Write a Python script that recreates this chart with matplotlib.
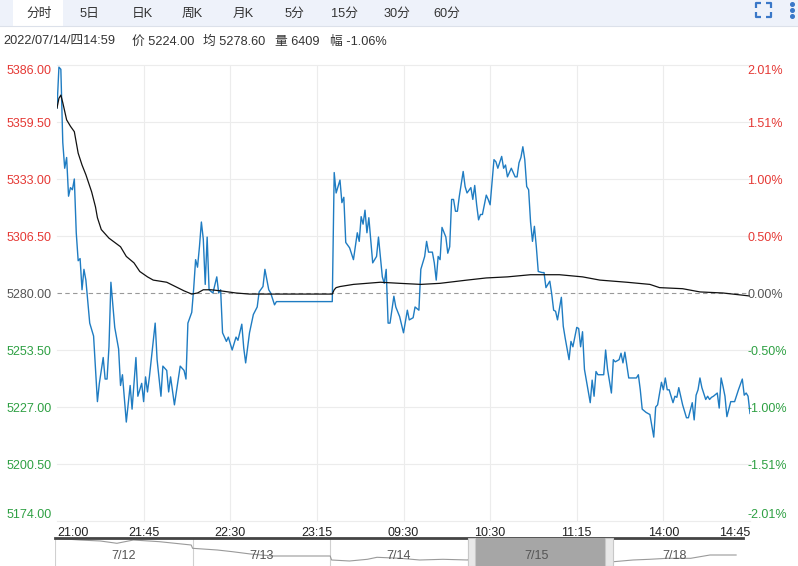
import matplotlib
matplotlib.use('Agg')
import matplotlib.pyplot as plt
from matplotlib.patches import Rectangle

plt.rcParams['font.family'] = ['Liberation Sans', 'Noto Sans CJK SC', 'DejaVu Sans']

W, H = 798, 566
pre_close = 5280.0

# minute index on the axis (0 = 21:00 ... 360 = 14:45) and price
price_t = [0, 1, 2, 3, 4, 5, 6, 7, 8, 9,
           10, 11, 12, 13, 14, 15, 17, 19, 21, 22,
           24, 25, 26, 27, 28, 30, 32, 33, 34, 36,
           38, 39, 41, 42, 44, 45, 46, 47, 48, 51,
           52, 54, 55, 57, 58, 59, 61, 64, 66, 67,
           68, 70, 71, 72, 73, 74, 75, 76, 77, 78,
           79, 81, 83, 84, 85, 86, 88, 89, 91, 93,
           94, 96, 97, 98, 100, 102, 104, 105, 107, 108,
           110, 111, 113, 114, 143, 144, 145, 147, 148, 149,
           150, 152, 154, 156, 157, 158, 159, 160, 161, 162,
           164, 166, 167, 169, 170, 171, 172, 173, 175, 176,
           178, 180, 182, 183, 185, 186, 188, 189, 191, 192,
           193, 195, 196, 197, 198, 199, 200, 202, 203, 204,
           205, 206, 207, 208, 209, 211, 212, 213, 215, 216,
           217, 218, 219, 220, 221, 223, 224, 225, 227, 228,
           229, 231, 232, 233, 234, 235, 236, 238, 239, 240,
           241, 242, 243, 244, 245, 246, 247, 248, 249, 250,
           252, 253, 254, 256, 257, 258, 259, 260, 262, 263,
           264, 266, 267, 268, 270, 271, 272, 273, 274, 276,
           277, 278, 279, 280, 281, 284, 285, 286, 288, 289,
           290, 292, 293, 294, 295, 297, 301, 302, 303, 304,
           306, 308, 310, 311, 312, 314, 315, 316, 317, 318,
           319, 320, 321, 322, 323, 324, 325, 327, 328, 330,
           331, 332, 333, 334, 335, 337, 338, 339, 340, 341,
           343, 344, 345, 346, 347, 348, 350, 352, 354, 356,
           357, 358, 359, 360]
price_v = [5366, 5385, 5384, 5350, 5338, 5343, 5325, 5329, 5328, 5333,
           5308, 5295, 5296, 5281.5, 5291, 5286, 5266, 5260, 5229.5, 5238,
           5250, 5240, 5240, 5255, 5285, 5264, 5254, 5237, 5242, 5220,
           5237, 5226, 5250, 5232, 5238, 5229.5, 5241, 5234, 5241, 5266,
           5249, 5232, 5246, 5244, 5234, 5241, 5228, 5246, 5244, 5240,
           5266, 5271, 5282, 5295.5, 5292, 5301.5, 5313, 5305, 5284, 5306,
           5281.5, 5280, 5287.5, 5280, 5281.5, 5261.5, 5257.5, 5259.5, 5253.5, 5259.5,
           5258, 5265.5, 5254.5, 5247.5, 5261.5, 5270, 5273.5, 5280.5, 5283, 5291,
           5281.5, 5280, 5274.5, 5276, 5276, 5336, 5326.5, 5332.5, 5322, 5324.5,
           5303.5, 5301, 5295.5, 5308, 5304, 5315.5, 5312, 5318.5, 5308, 5315,
           5294, 5297, 5306, 5287.5, 5284.5, 5291, 5266, 5266, 5278.5, 5273.5,
           5269, 5261.5, 5272, 5267.5, 5268.5, 5273.5, 5272, 5291, 5297, 5304,
           5299, 5299, 5294, 5286, 5297, 5295.5, 5310.5, 5306, 5298.5, 5301.5,
           5323.5, 5323.5, 5318, 5318, 5325, 5336.5, 5329.5, 5326.5, 5329, 5323.5,
           5330, 5321, 5314, 5316.5, 5316.5, 5325.5, 5323.5, 5321, 5342, 5341,
           5338, 5343.5, 5338, 5339.5, 5334, 5336, 5338, 5334, 5334, 5340.5,
           5343, 5348, 5342, 5329.5, 5328, 5313, 5304, 5311, 5301.5, 5290,
           5289.5, 5289.5, 5282.5, 5285.5, 5279.5, 5272, 5271.5, 5267.5, 5278, 5264.5,
           5259, 5249, 5257.5, 5255, 5264, 5263.5, 5255, 5262, 5244.5, 5234,
           5229, 5239.5, 5232, 5243.5, 5242, 5242, 5253.5, 5244.5, 5233.5, 5249,
           5248, 5249, 5252, 5247.5, 5252.5, 5240.5, 5240.5, 5242, 5235, 5226,
           5224.5, 5223.5, 5213, 5227, 5228, 5238.5, 5235, 5240.5, 5235, 5235,
           5232, 5229, 5232, 5231.5, 5236, 5232, 5228, 5222, 5222, 5229,
           5221, 5232.5, 5235, 5240.5, 5236, 5230.5, 5232, 5230.5, 5231.5, 5232,
           5233.5, 5226.5, 5240.5, 5236.5, 5232, 5222.5, 5229.5, 5229.5, 5235, 5240,
           5232.5, 5233.5, 5232, 5224]

# running average price
avg_t = [0, 1, 2, 3, 5, 7, 9, 11, 13, 15,
         18, 20, 21, 23, 27, 30, 33, 36, 40, 43,
         47, 50, 57, 66, 70, 73, 76, 80, 85, 93,
         100, 109, 143, 144, 145, 147, 154, 168, 178, 189,
         199, 213, 223, 234, 246, 261, 273, 282, 296, 308,
         313, 325, 334, 346, 360]
avg_v = [5366, 5370.5, 5372, 5368.5, 5360.5, 5357.5, 5355, 5345, 5339.5, 5335,
         5327, 5320, 5315, 5309.5, 5305.5, 5303.5, 5301.5, 5297, 5294, 5290,
         5287.5, 5286, 5285, 5281, 5279.5, 5280, 5281.5, 5281.5, 5281, 5280,
         5279.5, 5279.5, 5279.5, 5281.5, 5282.5, 5283, 5284, 5285, 5284.5, 5284,
         5284.5, 5286, 5287, 5287.5, 5288.5, 5288.5, 5287.5, 5286, 5285, 5284,
         5282.5, 5282, 5280.5, 5280, 5278.6]

y_ticks = [5386.00, 5359.50, 5333.00, 5306.50, 5280.00, 5253.50, 5227.00, 5200.50, 5174.00]
pct_labels = ['2.01%', '1.51%', '1.00%', '0.50%', '0.00%', '-0.50%', '-1.00%', '-1.51%', '-2.01%']
x_ticks = [0, 45, 90, 135, 180, 225, 270, 315, 360]
x_labels = ['21:00', '21:45', '22:30', '23:15', '09:30', '10:30', '11:15', '14:00', '14:45']

tabs = ['分时', '5日', '日K', '周K', '月K', '5分', '15分', '30分', '60分']
tab_x = [39, 89, 142, 192, 243, 294, 345, 397, 447]
info_parts = ['2022/07/14/四14:59', '价 5224.00', '均 5278.60', '量 6409', '幅 -1.06%']
info_x = [3, 132, 203, 275, 330]

# navigator: five trading days, position in days and price
nav_days = ['7/12', '7/13', '7/14', '7/15', '7/18']
nav_t = [0, 0.18, 0.33, 0.45, 0.57, 0.76, 0.99, 1.0, 1.18, 1.29, 1.42, 1.58, 2.0,
         2.01, 2.14, 2.27, 2.34, 2.51, 2.65, 2.82, 3.0,
         3.05, 3.2, 3.4, 3.6, 3.75, 3.85, 3.95,
         4.06, 4.2, 4.32, 4.45, 4.62, 4.76, 4.95]
nav_v = [5497, 5480, 5470, 5447, 5480, 5463, 5430, 5397, 5380, 5363, 5340, 5320, 5320,
         5280, 5270, 5287, 5307, 5297, 5280, 5287, 5280,
         5360, 5300, 5290, 5300, 5320, 5270, 5230,
         5263, 5280, 5287, 5297, 5297, 5330, 5330]
selected_day = 3

red, green, grey = '#e53935', '#2ea043', '#555555'


def level_color(v):
    if v > pre_close:
        return red
    if v < pre_close:
        return green
    return grey


fig = plt.figure(figsize=(W / 100, H / 100), dpi=100)

# overlay in pixel coordinates for the toolbar and info line
ov = fig.add_axes([0, 0, 1, 1])
ov.set_xlim(0, W)
ov.set_ylim(H, 0)
ov.axis('off')
ov.add_patch(Rectangle((0, 0), W, 26, facecolor='#eef2fa', edgecolor='none'))
ov.plot([0, W], [26, 26], color='#dce1ea', lw=0.8)
ov.add_patch(Rectangle((13, 0), 50, 26.5, facecolor='white', edgecolor='none'))
for lab, x in zip(tabs, tab_x):
    ov.text(x, 13.5, lab, ha='center', va='center', fontsize=9.2, color='#333333')
for part, x in zip(info_parts, info_x):
    ov.text(x, 42, part, ha='left', va='center', fontsize=9.2, color='#333333')
# fullscreen icon and menu dots
icon_c = '#3a78c8'
for cx, cy, dx, dy in [(756, 3, 1, 1), (771, 3, -1, 1), (756, 17, 1, -1), (771, 17, -1, -1)]:
    ov.plot([cx + dx * 5, cx, cx], [cy, cy, cy + dy * 5], color=icon_c, lw=1.6,
            solid_capstyle='butt')
ov.plot([792, 792, 792], [3.5, 9.5, 15.5], 'o', ms=2.6, color=icon_c)

# main chart
ax = fig.add_axes([57 / W, 1 - 521 / H, (750 - 57) / W, (521 - 65) / H])
ax.patch.set_visible(False)
ax.set_xlim(0, 360)
ax.set_ylim(y_ticks[-1], y_ticks[0])
for v in y_ticks:
    if v == pre_close:
        ax.axhline(v, color='#999999', lw=0.8, dashes=(4, 3), zorder=1)
    else:
        ax.axhline(v, color='#ececec', lw=0.8, clip_on=False, zorder=0)
for x in x_ticks[1:-1]:
    ax.axvline(x, color='#ececec', lw=0.8, zorder=0)

ax.plot(price_t, price_v, color='#1f7cc2', lw=1.0, zorder=3)
ax.plot(avg_t, avg_v, color='#111111', lw=0.9, zorder=4)

for s in ax.spines.values():
    s.set_visible(False)
ax.set_yticks(y_ticks)
ax.set_yticklabels(['%.2f' % v for v in y_ticks])
ax.tick_params(axis='y', length=0, pad=4, labelsize=9)
ax.set_xticks(x_ticks)
ax.set_xticklabels(x_labels)
ax.tick_params(axis='x', length=0, pad=4, labelsize=9, labelcolor='#222222')
xl = ax.get_xticklabels()
xl[0].set_ha('left')
xl[-1].set_ha('right')

ax2 = ax.twinx()
ax2.set_ylim(ax.get_ylim())
ax2.set_yticks(y_ticks)
ax2.set_yticklabels(pct_labels)
ax2.tick_params(axis='y', length=0, pad=-2, labelsize=9)
for s in ax2.spines.values():
    s.set_visible(False)

for labels in (ax.get_yticklabels(), ax2.get_yticklabels()):
    for lab, v in zip(labels, y_ticks):
        lab.set_color(level_color(v))
    labels[0].set_va('top')
    labels[-1].set_va('bottom')

# navigator strip
nav = fig.add_axes([55 / W, 0, (743 - 55) / W, (566 - 537.5) / H])
nav.patch.set_visible(False)
nav.set_xlim(0, len(nav_days))
nav.set_ylim(5220, 5505)
nav.plot(nav_t, nav_v, color='#9a9a9a', lw=0.8, zorder=2)
for i in range(len(nav_days)):
    nav.axvline(i, color='#d0d0d0', lw=0.8, zorder=1)
hw = 0.052
nav.add_patch(Rectangle((selected_day + hw, 5220), 1 - hw, 285,
                        facecolor='#a6a6a6', edgecolor='none', zorder=3))
for hx in (selected_day, selected_day + 1):
    nav.add_patch(Rectangle((hx, 5220), hw, 285, facecolor='#e8e8e8',
                            edgecolor='#c8c8c8', lw=0.8, zorder=4))
for i, d in enumerate(nav_days):
    nav.text(i + 0.5, 0.34, d, transform=nav.get_xaxis_transform(), ha='center',
             va='center', fontsize=9, color='#555555', zorder=5)
nav.set_xticks([])
nav.set_yticks([])
for k, s in nav.spines.items():
    s.set_visible(k == 'top')
nav.spines['top'].set_color('#444444')
nav.spines['top'].set_linewidth(2)

fig.savefig('out.png', dpi=100)
